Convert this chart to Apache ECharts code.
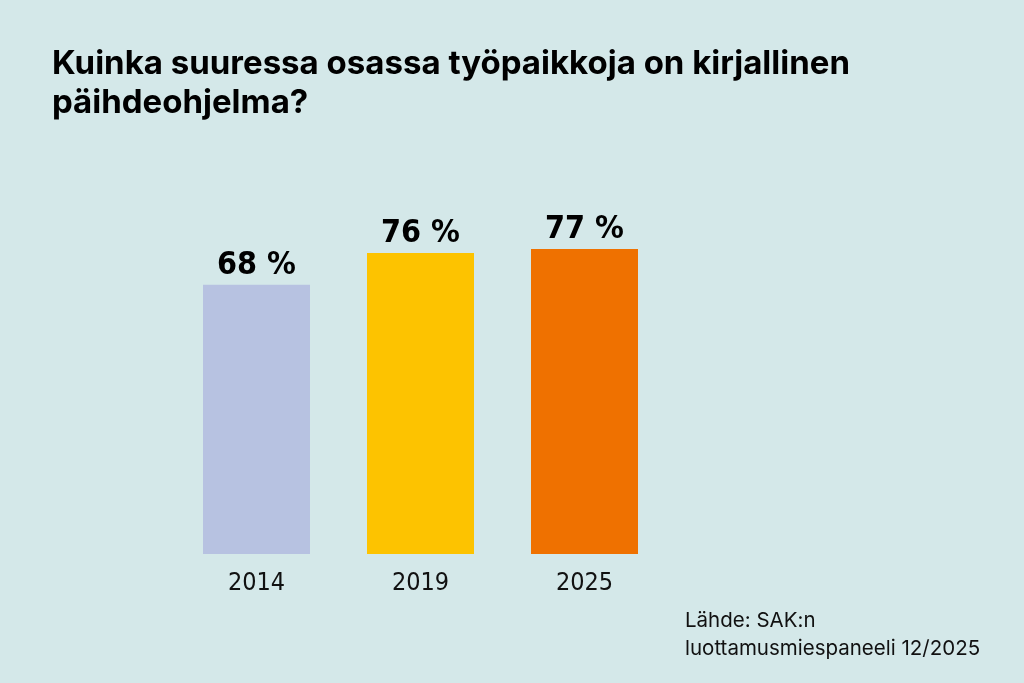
<html>
<head>
    <meta charset="UTF-8">
    <title>Päihdeohjelma</title>
    <script src="https://cdn.jsdelivr.net/npm/echarts@6/dist/echarts.min.js"></script>
    <style>
        html, body{
            margin: 0;
            padding: 0;
            background: #d4e8e9;
        }
        #main{
            width: 1024px;
            height: 683px;
        }
    </style>
</head>
<body>
<div id="main"></div>

<script>
    // data
    const years = ['2014', '2019', '2025'];
    const shares = [68, 76, 77];
    const barColors = ['#b7c2e1', '#fdc300', '#ef7100'];

    const narrow = '"DejaVu Sans Condensed", "DejaVu Sans", sans-serif';

    const myChart = echarts.init(document.getElementById('main'), null, {width: 1024, height: 683});

    const option = {
        backgroundColor: '#d4e8e9',
        title: {
            text: 'Kuinka suuressa osassa työpaikkoja on kirjallinen\npäihdeohjelma?',
            left: 47,
            top: 40,
            textStyle: {
                fontFamily: 'Inter',
                fontWeight: 'bold',
                fontSize: 33,
                lineHeight: 39,
                color: '#000'
            }
        },
        graphic: [{
            type: 'text',
            left: 685,
            top: 607,
            style: {
                text: 'Lähde: SAK:n\nluottamusmiespaneeli 12/2025',
                font: '20.5px Inter',
                lineHeight: 28,
                fill: '#111'
            }
        }],
        grid: {
            left: 174.5,
            width: 492,
            top: 158,
            bottom: 129
        },
        xAxis: {
            type: 'category',
            data: years,
            axisLine: {show: false},
            axisTick: {show: false},
            axisLabel: {
                margin: 17,
                fontFamily: narrow,
                fontSize: 25,
                color: '#111'
            }
        },
        yAxis: {
            type: 'value',
            min: 0,
            max: 100,
            show: false
        },
        series: [{
            type: 'bar',
            barWidth: 107,
            data: shares.map(function (v, i) {
                return {value: v, itemStyle: {color: barColors[i]}};
            }),
            label: {
                show: true,
                position: 'top',
                distance: 3,
                formatter: '{c} %',
                fontFamily: narrow,
                fontWeight: 'bold',
                fontSize: 32,
                color: '#000'
            }
        }]
    };

    myChart.setOption(option);
</script>
</body>
</html>
